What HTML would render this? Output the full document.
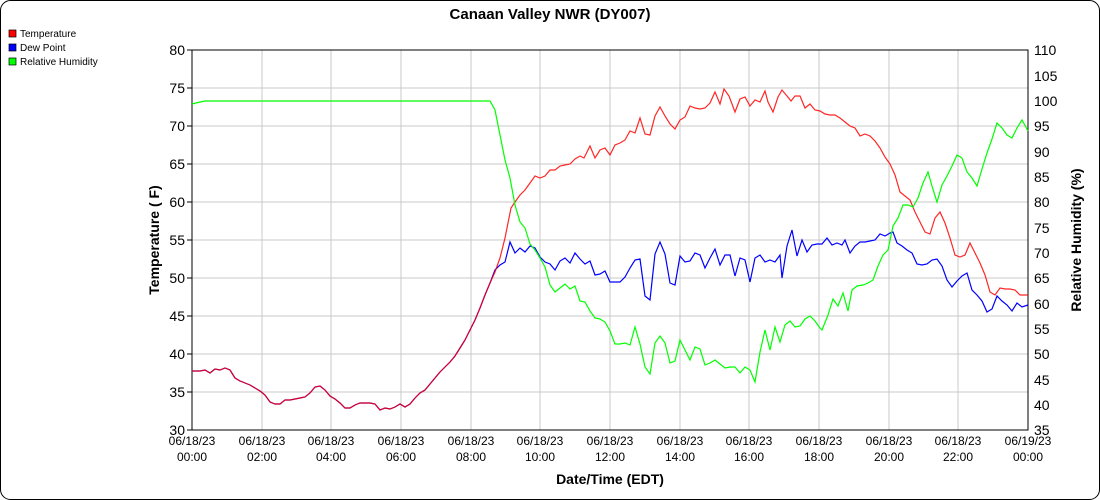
<!DOCTYPE html>
<html><head><meta charset="utf-8"><style>
body{margin:0;background:#fff;}
svg{display:block;font-family:"Liberation Sans",Arial,sans-serif;}
</style></head><body>
<svg width="1100" height="500" viewBox="0 0 1100 500" xmlns="http://www.w3.org/2000/svg">
<rect x="0.5" y="0.5" width="1099" height="499" rx="10" fill="#fff" stroke="#000"/>
<text x="550" y="19" text-anchor="middle" font-size="15" font-weight="bold">Canaan Valley NWR (DY007)</text>
<rect x="9" y="30" width="7" height="7" fill="#f00" stroke="#000" stroke-width="0.7"/><text x="20" y="37" font-size="10">Temperature</text>
<rect x="9" y="44" width="7" height="7" fill="#00f" stroke="#000" stroke-width="0.7"/><text x="20" y="51" font-size="10">Dew Point</text>
<rect x="9" y="58" width="7" height="7" fill="#0f0" stroke="#000" stroke-width="0.7"/><text x="20" y="65" font-size="10">Relative Humidity</text>
<g stroke="#c8c8c8" stroke-width="1">
<line x1="192" y1="88" x2="1028" y2="88"/><line x1="192" y1="126" x2="1028" y2="126"/><line x1="192" y1="164" x2="1028" y2="164"/><line x1="192" y1="202" x2="1028" y2="202"/><line x1="192" y1="240" x2="1028" y2="240"/><line x1="192" y1="278" x2="1028" y2="278"/><line x1="192" y1="316" x2="1028" y2="316"/><line x1="192" y1="354" x2="1028" y2="354"/><line x1="192" y1="392" x2="1028" y2="392"/>
<line x1="262" y1="50" x2="262" y2="430"/><line x1="331" y1="50" x2="331" y2="430"/><line x1="401" y1="50" x2="401" y2="430"/><line x1="471" y1="50" x2="471" y2="430"/><line x1="540" y1="50" x2="540" y2="430"/><line x1="610" y1="50" x2="610" y2="430"/><line x1="680" y1="50" x2="680" y2="430"/><line x1="749" y1="50" x2="749" y2="430"/><line x1="819" y1="50" x2="819" y2="430"/><line x1="889" y1="50" x2="889" y2="430"/><line x1="958" y1="50" x2="958" y2="430"/>
</g>
<rect x="192" y="50" width="836" height="380" fill="none" stroke="#000"/>
<g stroke="#000"><line x1="187" y1="50" x2="192" y2="50"/><line x1="187" y1="88" x2="192" y2="88"/><line x1="187" y1="126" x2="192" y2="126"/><line x1="187" y1="164" x2="192" y2="164"/><line x1="187" y1="202" x2="192" y2="202"/><line x1="187" y1="240" x2="192" y2="240"/><line x1="187" y1="278" x2="192" y2="278"/><line x1="187" y1="316" x2="192" y2="316"/><line x1="187" y1="354" x2="192" y2="354"/><line x1="187" y1="392" x2="192" y2="392"/><line x1="187" y1="430" x2="192" y2="430"/></g>
<g font-size="14" text-anchor="end">
<text x="185" y="55">80</text><text x="185" y="93">75</text><text x="185" y="131">70</text><text x="185" y="169">65</text><text x="185" y="207">60</text><text x="185" y="245">55</text><text x="185" y="283">50</text><text x="185" y="321">45</text><text x="185" y="359">40</text><text x="185" y="397">35</text><text x="185" y="435">30</text></g>
<g font-size="14">
<text x="1034" y="55">110</text><text x="1034" y="81">105</text><text x="1034" y="106">100</text><text x="1034" y="131">95</text><text x="1034" y="157">90</text><text x="1034" y="182">85</text><text x="1034" y="207">80</text><text x="1034" y="233">75</text><text x="1034" y="258">70</text><text x="1034" y="283">65</text><text x="1034" y="309">60</text><text x="1034" y="334">55</text><text x="1034" y="359">50</text><text x="1034" y="385">45</text><text x="1034" y="410">40</text><text x="1034" y="435">35</text></g>
<g font-size="12" text-anchor="middle">
<text x="192" y="445">06/18/23</text><text x="192" y="461">00:00</text>
<text x="262" y="445">06/18/23</text><text x="262" y="461">02:00</text>
<text x="331" y="445">06/18/23</text><text x="331" y="461">04:00</text>
<text x="401" y="445">06/18/23</text><text x="401" y="461">06:00</text>
<text x="471" y="445">06/18/23</text><text x="471" y="461">08:00</text>
<text x="540" y="445">06/18/23</text><text x="540" y="461">10:00</text>
<text x="610" y="445">06/18/23</text><text x="610" y="461">12:00</text>
<text x="680" y="445">06/18/23</text><text x="680" y="461">14:00</text>
<text x="749" y="445">06/18/23</text><text x="749" y="461">16:00</text>
<text x="819" y="445">06/18/23</text><text x="819" y="461">18:00</text>
<text x="889" y="445">06/18/23</text><text x="889" y="461">20:00</text>
<text x="958" y="445">06/18/23</text><text x="958" y="461">22:00</text>
<text x="1028" y="445">06/19/23</text><text x="1028" y="461">00:00</text></g>
<text x="610" y="484" text-anchor="middle" font-size="14" font-weight="bold">Date/Time (EDT)</text>
<text transform="translate(159,240) rotate(-90)" text-anchor="middle" font-size="14" font-weight="bold">Temperature ( F)</text>
<text transform="translate(1081,240) rotate(-90)" text-anchor="middle" font-size="14" font-weight="bold">Relative Humidity (%)</text>
<g fill="none" stroke-width="1.2">
<polyline stroke="#00f" points="192,371 200,371 205,370 210,373 215,369 220,370 225,368 230,370 235,378 240,381 245,383 250,385 255,388 260,391 265,395 270,402 275,404 280,404 285,400 290,400 295,399 300,398 305,397 310,393 315,387 320,386 325,390 330,396 335,399 340,403 345,408 350,408 355,405 360,403 365,403 370,403 375,404 380,410 385,408 390,409 395,407 400,404 405,407 410,404 415,398 420,393 425,390 430,384 435,378 440,372 445,367 450,362 455,356 460,348 465,340 470,330 475,320 480,308 485,295 490,283 495,270 500,265 505,262 510,242 515,253 520,248 525,252 530,246 535,248 540,257 545,262 550,264 555,270 560,261 565,258 570,263 575,253 580,259 585,264 590,261 595,275 600,274 605,271 610,282 615,282 620,282 625,277 630,268 635,260 640,259 645,296 650,300 655,254 660,242 665,254 670,283 675,285 680,256 685,262 690,261 695,253 700,255 705,268 710,258 715,249 720,265 725,255 730,255 735,276 740,258 745,260 750,282 755,258 760,255 765,262 770,260 775,262 780,255 782,278 787,246 792,230 797,256 802,240 807,252 812,245 817,244 822,244 827,238 832,245 837,243 842,245 845,240 850,253 855,246 860,242 865,242 870,241 875,240 880,234 885,236 890,233 893,232 897,243 902,246 907,250 912,253 917,264 922,265 927,264 932,260 937,259 942,266 947,280 952,287 957,281 962,276 967,273 972,290 977,295 982,301 987,312 992,309 997,296 1002,301 1007,305 1012,311 1017,303 1022,307 1028,305"/>
<polyline stroke="#f00" stroke-opacity="0.85" points="192,371 200,371 205,370 210,373 215,369 220,370 225,368 230,370 235,378 240,381 245,383 250,385 255,388 260,391 265,395 270,402 275,404 280,404 285,400 290,400 295,399 300,398 305,397 310,393 315,387 320,386 325,390 330,396 335,399 340,403 345,408 350,408 355,405 360,403 365,403 370,403 375,404 380,410 385,408 390,409 395,407 400,404 405,407 410,404 415,398 420,393 425,390 430,384 435,378 440,372 445,367 450,362 455,356 460,348 465,340 470,330 475,320 480,308 485,295 490,283 495,272 500,258 505,238 511,208 515,202 520,195 525,190 530,183 535,176 540,178 545,176 550,170 555,170 560,166 565,165 570,164 575,159 580,156 584,158 590,146 595,158 600,150 605,148 610,155 615,145 620,143 625,140 630,131 635,133 640,118 645,134 650,135 655,116 660,107 665,116 670,124 675,129 680,120 685,117 690,106 695,108 700,109 705,108 710,103 715,92 720,104 724,89 729,96 735,112 740,99 745,97 750,106 755,100 760,102 765,91 768,102 773,112 778,97 782,90 787,96 791,101 795,96 800,96 805,108 810,104 815,110 820,111 825,114 830,115 835,115 840,118 845,122 850,126 855,128 860,136 865,134 870,136 875,141 880,148 885,157 890,164 895,175 900,192 905,196 910,200 915,212 920,222 925,232 930,234 935,218 940,212 945,223 950,238 955,255 960,257 965,255 970,243 975,253 980,263 985,275 990,292 995,295 1000,288 1005,289 1010,289 1015,290 1020,295 1028,295"/>
<polyline stroke="#0f0" points="192,104 200,102 205,101 490,101 495,110 500,135 505,160 510,178 515,205 520,222 525,228 530,244 535,250 540,258 545,267 550,285 555,292 560,288 565,284 570,289 575,286 580,301 585,302 590,311 595,318 600,319 605,322 610,331 615,344 620,344 625,343 630,345 635,327 640,344 645,367 650,374 655,343 660,336 665,343 670,363 675,361 680,340 685,350 690,360 695,347 700,349 705,365 710,363 715,360 720,364 725,368 730,367 735,367 740,373 745,367 750,370 755,382 760,352 765,330 770,350 775,327 780,342 785,325 790,321 795,327 800,326 805,319 810,316 815,321 820,328 822,330 828,315 833,299 838,306 843,293 848,311 852,290 857,286 863,285 868,283 873,280 878,266 883,255 888,250 893,226 898,218 903,205 908,205 913,207 918,198 923,183 928,172 932,186 937,202 942,185 947,176 952,166 957,155 962,158 967,172 972,178 977,186 982,169 987,153 992,139 997,123 1002,128 1007,135 1012,138 1017,128 1022,120 1028,131"/>
</g>
</svg>
</body></html>
